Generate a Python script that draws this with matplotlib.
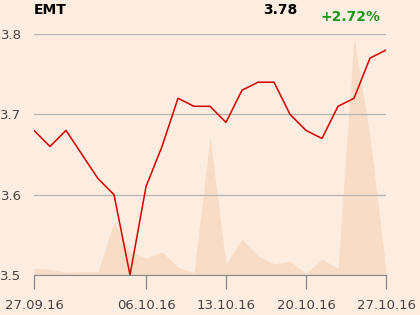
import matplotlib
matplotlib.use('Agg')
import matplotlib.pyplot as plt

# trading days, close prices and volume (relative units)
dates = ['27.09.16', '28.09.16', '29.09.16', '30.09.16', '03.10.16', '04.10.16',
         '05.10.16', '06.10.16', '07.10.16', '10.10.16', '11.10.16', '12.10.16',
         '13.10.16', '14.10.16', '17.10.16', '18.10.16', '19.10.16', '20.10.16',
         '21.10.16', '24.10.16', '25.10.16', '26.10.16', '27.10.16']
close = [3.68, 3.66, 3.68, 3.65, 3.62, 3.60, 3.50, 3.61, 3.66, 3.72, 3.71, 3.71,
         3.69, 3.73, 3.74, 3.74, 3.70, 3.68, 3.67, 3.71, 3.72, 3.77, 3.78]
volume = [6.7, 5.7, 2.7, 3.3, 3.3, 53, 23, 17, 23, 7.7, 2.3, 138, 10.7, 36, 19,
          11, 14, 1.7, 15.7, 6.7, 238, 138, 5]
tick_labels = ['27.09.16', '06.10.16', '13.10.16', '20.10.16', '27.10.16']
y_ticks = [3.5, 3.6, 3.7, 3.8]

bg = '#fcede0'
fig = plt.figure(figsize=(4.2, 3.15), dpi=100, facecolor=bg)
ax = fig.add_axes([34 / 420, 1 - 275 / 315, 352 / 420, 241 / 315])
ax.set_facecolor(bg)

x = list(range(len(dates)))

# volume on a hidden twin axis behind the price line
axv = ax.twinx()
axv.fill_between(x, 0, volume, color='#f8dcc6', lw=0, zorder=1)
axv.set_ylim(0, 241)
axv.axis('off')
ax.set_zorder(axv.get_zorder() + 1)
ax.patch.set_visible(False)
axv.patch.set_facecolor(bg)

ax.plot(x, close, color='#d40000', lw=1.1, zorder=3)

ax.set_xlim(0, len(dates) - 1)
ax.set_ylim(3.5, 3.8)
ax.set_yticks(y_ticks)
ax.set_yticklabels([f'{v:.1f}' for v in y_ticks])
ax.set_xticks([dates.index(d) for d in tick_labels])
ax.set_xticklabels(tick_labels)

ax.grid(axis='y', color='#b4b4b4', lw=0.9)
ax.set_axisbelow(True)
for s in ['top', 'right', 'left']:
    ax.spines[s].set_visible(False)
ax.spines['bottom'].set_color('#888888')
ax.tick_params(axis='y', length=0, pad=9, labelsize=9.5, labelcolor='#444444')
ax.tick_params(axis='x', length=10, width=0.9, color='#888888', pad=7,
               labelsize=9.5, labelcolor='#444444')

fig.text(34 / 420, 1 - 10 / 315, 'EMT', fontsize=10, fontweight='bold',
         ha='left', va='center', color='black')
fig.text(297 / 420, 1 - 10 / 315, f'{close[-1]:.2f}', fontsize=10,
         fontweight='bold', ha='right', va='center', color='black')
fig.text(380 / 420, 1 - 17 / 315, '+2.72%', fontsize=10, fontweight='bold',
         ha='right', va='center', color='#1a9a1a')

fig.savefig('out.png', dpi=100, facecolor=bg)
